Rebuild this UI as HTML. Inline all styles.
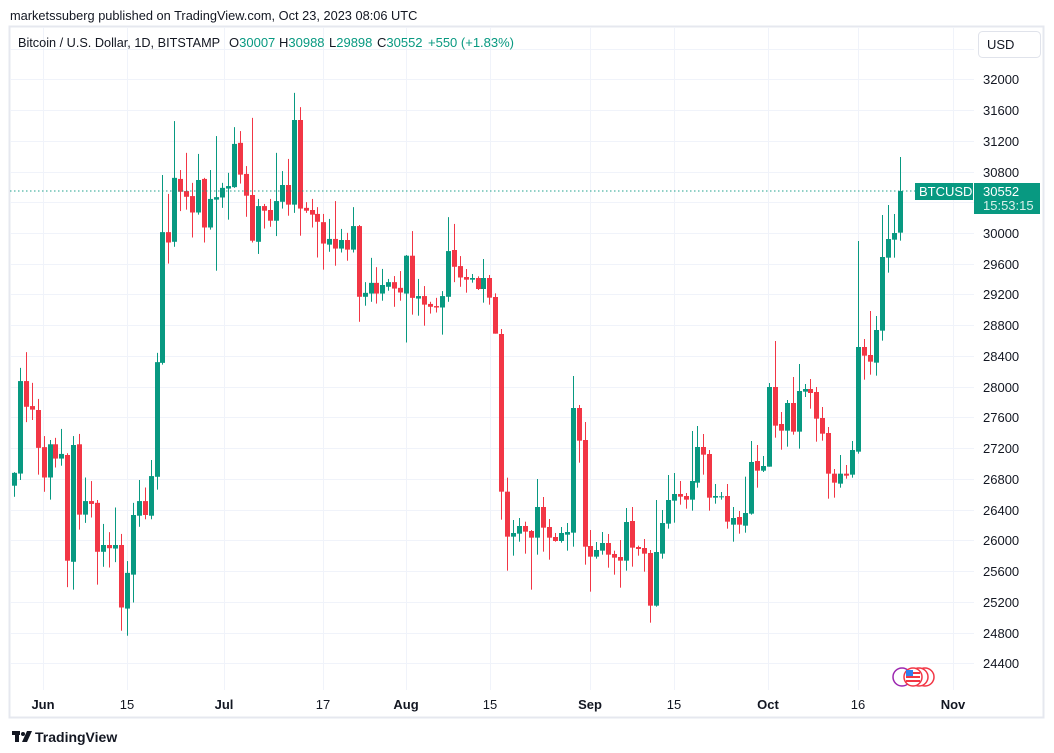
<!DOCTYPE html>
<html><head><meta charset="utf-8"><style>
html,body{margin:0;padding:0;background:#fff;width:1054px;height:753px;overflow:hidden;font-family:"Liberation Sans",sans-serif;}
svg{position:absolute;left:0;top:0}
</style></head><body>
<svg id="s" width="1054" height="753" xmlns="http://www.w3.org/2000/svg" font-family="Liberation Sans, sans-serif">
<rect x="0" y="0" width="1054" height="753" fill="#fff"/>
<text x="10" y="20" font-size="12.8" fill="#131722">marketssuberg published on TradingView.com, Oct 23, 2023 08:06 UTC</text>
<rect x="9.5" y="26.5" width="1034" height="691" fill="none" stroke="#e6e8ef" stroke-width="2"/>
<g id="grid"></g>
<g id="candles"></g>
<line x1="10" y1="191" x2="915" y2="191" stroke="#089981" stroke-width="1" stroke-dasharray="1.5,2.5" opacity="0.9"/>
<g font-size="13" fill="#131722">
<text x="18" y="47" font-size="12.7">Bitcoin / U.S. Dollar, 1D, BITSTAMP</text>
<text x="229" y="47">O<tspan fill="#089981">30007</tspan></text>
<text x="279" y="47">H<tspan fill="#089981">30988</tspan></text>
<text x="329" y="47">L<tspan fill="#089981">29898</tspan></text>
<text x="377" y="47">C<tspan fill="#089981">30552</tspan></text>
<text x="428" y="47" fill="#089981">+550 (+1.83%)</text>
</g>
<rect x="978.5" y="31.5" width="62" height="26" rx="4" fill="#fff" stroke="#e0e3eb"/>
<text x="987" y="49" font-size="13" fill="#131722">USD</text>
<g id="plabels" font-size="13" fill="#131722"></g>
<rect x="915" y="183" width="58" height="17" fill="#089981"/>
<text x="919" y="196" font-size="13" fill="#fff">BTCUSD</text>
<rect x="974" y="183" width="66" height="31" fill="#089981"/>
<text x="983" y="196" font-size="13" fill="#fff">30552</text>
<text x="983" y="210" font-size="13" fill="#d8f0ea">15:53:15</text>
<g id="tlabels" font-size="13" fill="#131722" text-anchor="middle"></g>
<circle cx="902" cy="677" r="9" fill="#fff" stroke="#9c27b0" stroke-width="1.5"/>
<circle cx="925" cy="677" r="9" fill="#fff" stroke="#f23645" stroke-width="1.5"/>
<circle cx="919" cy="677" r="9" fill="#fff" stroke="#f23645" stroke-width="1.5"/>
<circle cx="913" cy="677" r="9" fill="#fff" stroke="#f23645" stroke-width="1.5"/>
<rect x="906" y="672" width="14" height="10" fill="#f23645"/>
<rect x="906" y="674" width="14" height="2" fill="#fff"/>
<rect x="906" y="678" width="14" height="2" fill="#fff"/>
<rect x="906" y="670" width="7" height="6" fill="#2f80ed"/>
<g transform="translate(12,729)">
<rect x="0" y="2" width="8" height="4" fill="#131722"/><rect x="3" y="2" width="4" height="11" fill="#131722"/>
<circle cx="11" cy="5" r="2" fill="#131722"/><path d="M15 2 L20 2 L15 13 L10 13 Z" fill="#131722"/>
</g>
<text x="35" y="742" font-size="14" font-weight="bold" fill="#131722">TradingView</text>
</svg>
<script>
var NS="http://www.w3.org/2000/svg";
function el(t,a,p){var e=document.createElementNS(NS,t);for(var k in a)e.setAttribute(k,a[k]);p.appendChild(e);return e;}
var grid=document.getElementById('grid'),pl=document.getElementById('plabels'),tl=document.getElementById('tlabels'),cg=document.getElementById('candles');
function yp(p){return 79.3+(32000-p)*0.07685;}
for(var p=24400;p<=32400;p+=400){var y=Math.round(yp(p))+0.5;el('line',{x1:10,y1:y,x2:974,y2:y,stroke:'#f0f3fa','stroke-width':1},grid);
if(p<=32000){var t=el('text',{x:983,y:y+4.5},pl);t.textContent=p;}}
var tx=[[43,'Jun',1],[127,'15'],[224,'Jul',1],[323,'17'],[406,'Aug',1],[490,'15'],[590,'Sep',1],[674,'15'],[768,'Oct',1],[858,'16'],[953,'Nov',1]];
tx.forEach(function(a){el('line',{x1:a[0]+0.5,y1:27,x2:a[0]+0.5,y2:690,stroke:'#f0f3fa','stroke-width':1},grid);
var t=el('text',{x:a[0],y:709},tl);t.textContent=a[1];if(a[2])t.setAttribute('font-weight','bold');});
var Z=[
{ox:5,oy:80,sy:2.8,d:[[28,'G',1100,1136,1098,1167],[46,'G',843,1102,806,1120],[64,'R',843,915,762,958],[82,'R',913,923,848,952],[100,'R',924,1030,893,1105],[118,'R',1028,1113,997,1153],[134,'G',1020,1113,1008,1175],[151,'R',1020,1060,1002,1085],[169,'G',1047,1060,977,1080],[187,'R',1050,1346,1045,1420],[205,'G',1022,1349,997,1427],[223,'R',1020,1217,991,1259],[241,'G',1179,1217,1113,1240],[259,'R',1179,1187,1123,1225],[277,'R',1184,1321,1176,1413],[295,'G',1302,1321,1243,1363],[313,'R',1302,1311,1266,1365],[331,'G',1302,1312,1197,1350],[349,'R',1302,1477,1271,1542],[367,'G',1380,1480,1347,1556],[385,'G',1218,1385,1184,1463],[403,'G',1179,1220,1120,1251],[421,'R',1179,1218,1141,1230],[439,'G',1109,1220,1064,1230],[455,'G',790,1111,764,1147],[472,'G',426,792,266,797]]},
{ox:155,oy:80,sy:2.8,d:[[40,'R',426,455,319,514],[58,'G',274,453,115,467],[76,'R',277,313,252,367],[94,'R',311,327,204,363],[112,'R',325,371,288,441],[130,'G',280,371,207,377],[148,'R',277,413,274,455],[166,'G',333,413,252,419],[184,'G',328,335,157,534],[202,'G',302,329,288,358],[220,'G',297,304,260,391],[238,'G',179,300,132,302],[256,'R',176,265,143,290],[274,'R',263,324,241,383],[292,'R',322,450,106,455],[310,'G',353,453,333,487],[328,'R',353,366,347,416],[346,'R',364,394,333,411],[362,'G',339,394,204,437],[380,'G',294,341,255,360],[398,'R',294,349,221,380],[416,'G',112,349,36,372],[434,'R',112,360,76,436],[452,'R',358,366,342,372],[470,'R',364,377,333,413]]},
{ox:305,oy:80,sy:2.8,d:[[37,'R',375,397,356,497],[55,'R',398,458,375,531],[73,'G',445,461,389,481],[91,'R',445,472,339,520],[109,'G',448,472,417,483],[127,'R',448,475,428,506],[145,'G',409,475,356,483],[163,'R',409,607,406,677],[181,'G',596,607,566,632],[199,'G',568,598,498,621],[214,'R',568,598,524,626],[232,'G',574,598,529,618],[250,'G',566,579,557,590],[268,'R',566,584,549,635],[286,'R',582,595,535,618],[304,'G',492,598,490,735],[322,'R',492,610,423,657],[340,'G',605,612,557,660],[358,'R',605,629,577,688],[376,'R',627,635,621,654],[394,'R',633,637,610,651],[412,'G',605,637,591,713],[430,'G',479,607,384,621],[448,'R',476,523,403,566],[466,'R',521,553,493,579]]},
{ox:455,oy:180,sy:3,d:[[34,'R',291,299,267,338],[52,'G',294,299,282,308],[70,'R',294,327,289,330],[85,'G',294,327,237,368],[103,'R',294,353,285,374],[121,'R',351,461,340,461],[139,'R',462,935,447,1019],[157,'R',935,1070,893,1172],[175,'G',1059,1070,1020,1127],[193,'G',1038,1061,1014,1085],[211,'R',1038,1055,1025,1121],[229,'R',1053,1073,1050,1229],[247,'G',981,1073,897,1124],[265,'R',981,1043,951,1115],[283,'R',1041,1073,1017,1139],[301,'R',1071,1083,1059,1085],[319,'G',1059,1083,1041,1088],[337,'G',1056,1064,1029,1112],[355,'G',684,1058,588,1100],[373,'R',684,782,675,848],[391,'R',780,1100,726,1154],[406,'R',1098,1130,1050,1235],[424,'G',1110,1130,1086,1136],[442,'G',1089,1112,1056,1124],[460,'R',1089,1124,1062,1163],[476,'R',1122,1133,1112,1184]]},
{ox:605,oy:300,sy:3,d:[[46,'R',771,782,720,863],[64,'G',666,782,624,812],[82,'R',663,743,621,800],[100,'R',741,747,737,767],[118,'R',744,761,717,815],[136,'R',759,917,750,968],[154,'G',756,917,600,920],[172,'G',669,761,630,776],[190,'G',600,671,525,686],[208,'G',582,602,519,668],[226,'R',582,590,543,614],[244,'R',588,599,579,626],[262,'G',543,599,393,632],[277,'G',441,548,378,563],[295,'R',441,464,402,524],[313,'R',462,593,450,632],[331,'G',588,593,552,611],[349,'G',589,591,576,599],[367,'R',588,665,552,686],[385,'G',654,674,621,725],[403,'R',651,674,633,701],[421,'G',639,677,530,698],[439,'G',486,641,423,644],[457,'R',483,512,435,563]]},
{ox:755,oy:140,sy:3,d:[[25,'G',978,992,948,996],[43,'G',741,980,729,980],[61,'R',741,857,603,893],[79,'R',852,872,816,929],[97,'G',789,872,780,920],[115,'R',789,875,711,884],[133,'G',753,875,672,926],[151,'G',747,755,732,771],[166,'R',747,759,717,806],[184,'R',756,836,741,905],[202,'R',834,881,801,902],[220,'R',879,1001,861,1076],[238,'R',1001,1028,987,1073],[256,'G',1001,1031,945,1043],[274,'R',1001,1007,975,1016],[292,'G',930,1004,903,1013],[310,'G',621,935,303,941],[328,'R',621,647,597,719],[346,'R',645,665,513,704],[364,'G',570,668,528,707],[382,'G',351,572,225,602],[400,'G',297,353,195,398],[418,'G',279,299,222,353],[436,'G',153,278,51,302]]}];
Z.forEach(function(z){z.d.forEach(function(c){
var x=Math.round(z.ox+c[0]/3),col=c[1]=='G'?'#089981':'#f23645';
var bt=z.oy+c[2]/z.sy,bb=z.oy+c[3]/z.sy,wt=z.oy+c[4]/z.sy,wb=z.oy+c[5]/z.sy;
el('rect',{x:x,y:wt,width:1,height:Math.max(1,wb-wt),fill:col},cg);
el('rect',{x:x-2,y:bt,width:5,height:Math.max(1,bb-bt),fill:col},cg);
});});
</script>
</body></html>
